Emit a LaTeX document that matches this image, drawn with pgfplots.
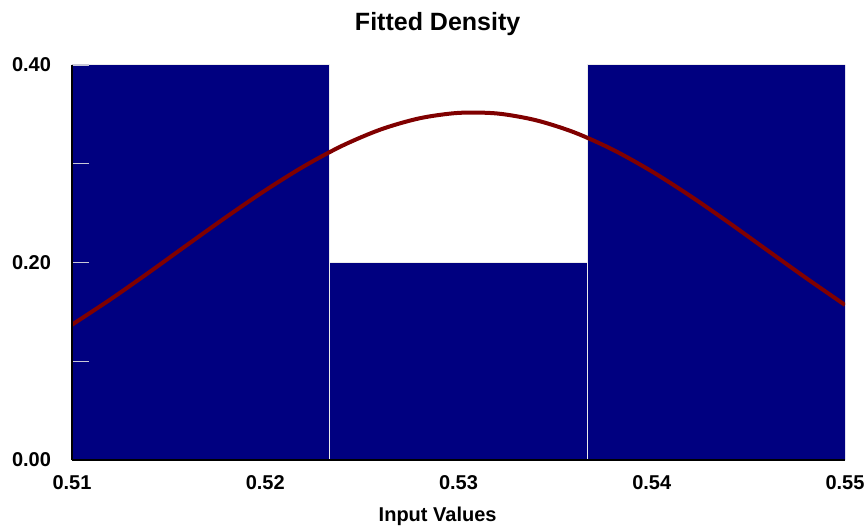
\documentclass[border=0pt]{standalone}
\usepackage{fontspec}
\setmainfont{Liberation Sans}
\usepackage{pgfplots}
\pgfplotsset{compat=1.18}
\usetikzlibrary{calc}
\definecolor{barblue}{RGB}{0,0,128}
\definecolor{curvered}{RGB}{128,0,0}
\definecolor{ticklight}{RGB}{200,200,215}

\begin{document}
\begin{tikzpicture}
  \begin{axis}[
      name=ax,
      scale only axis,
      width=386.5pt, height=197.5pt,
      xmin=0.51, xmax=0.55,
      ymin=0, ymax=0.4,
      axis on top,
      axis x line*=bottom, axis y line*=left,
      axis line style={black, line width=1pt, -},
      xtick={0.51,0.52,0.53,0.54,0.55},
      ytick={0,0.2,0.4},
      minor ytick={0.1,0.3},
      major x tick style={draw=none},
      ytick style={ticklight, line width=0.6pt},
      minor y tick style={ticklight, line width=0.6pt},
      tick align=inside,
      major tick length=8.5pt, minor tick length=8.5pt,
      ytick pos=left,
      scaled ticks=false,
      tick label style={font=\fontsize{10}{12}\selectfont\bfseries},
      /pgf/number format/.cd, fixed, fixed zerofill, precision=2, assume math mode=true,
      /pgfplots/.cd,
      xticklabel style={yshift=-4pt},
      yticklabel style={xshift=-7pt},
      title={Fitted Density},
      title style={font=\fontsize{12.5}{14}\selectfont\bfseries, at={(axis description cs:0.473,1)}, anchor=center, yshift=14.5pt},
      xlabel={Input Values},
      xlabel style={font=\fontsize{10}{12}\selectfont\bfseries, at={(axis description cs:0.473,0)}, anchor=center, yshift=-28pt},
    ]
    % histogram bins
    \addplot[ybar interval, fill=barblue, draw=white!85!gray, line width=0.5pt]
      coordinates {(0.51,0.4) (0.523333,0.2) (0.536667,0.4) (0.55,0.4)};
    % fitted normal density
    \addplot[curvered, line width=2pt, smooth] coordinates {
      (0.510,0.1370) (0.512,0.1628) (0.514,0.1902) (0.516,0.2184)
      (0.518,0.2463) (0.520,0.2730) (0.522,0.2974) (0.524,0.3184)
      (0.526,0.3349) (0.528,0.3461) (0.530,0.3515) (0.532,0.3509)
      (0.534,0.3441) (0.536,0.3317) (0.538,0.3141) (0.540,0.2923)
      (0.542,0.2673) (0.544,0.2402) (0.546,0.2121) (0.548,0.1841)
      (0.550,0.1570)};
  \end{axis}
  \pgfresetboundingbox
  \path ($(ax.south west)+(-36pt,-34.5pt)$) rectangle ($(ax.north east)+(10.5pt,32.5pt)$);
\end{tikzpicture}
\end{document}
